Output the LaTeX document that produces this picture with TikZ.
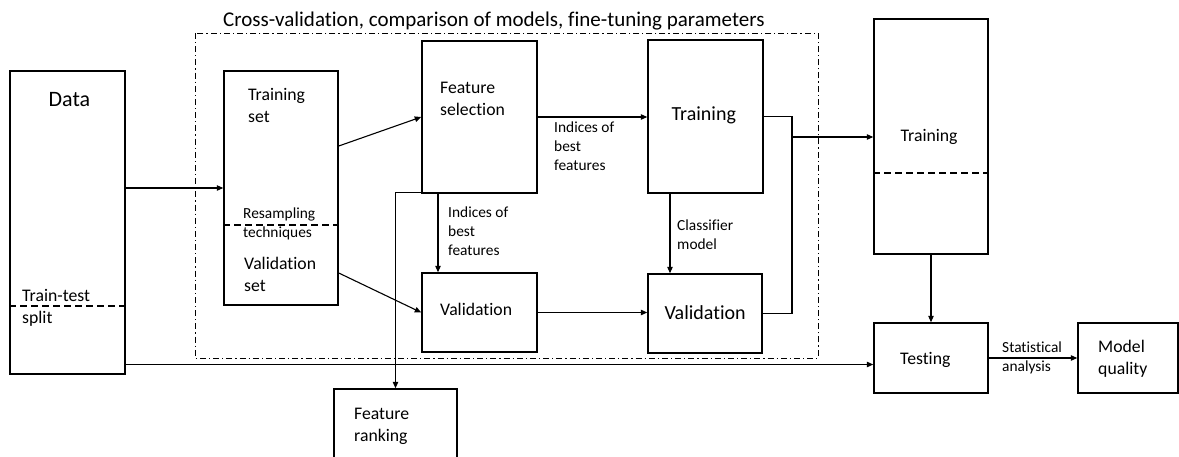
\documentclass[tikz,border=0pt]{standalone}
\usepackage{fontspec}
\setmainfont{Carlito}[Ligatures=CommonOff]
\usetikzlibrary{arrows.meta,calc}
\newcommand\fntXL{\fontsize{21}{25}\selectfont}
\newcommand\fntL{\fontsize{20}{24}\selectfont}
\newcommand\fntM{\fontsize{17.7}{22}\selectfont}
\newcommand\fntS{\fontsize{15.4}{19}\selectfont}
\begin{document}
\begin{tikzpicture}[x=1pt,y=-1pt,
  box/.style={draw, line width=1.5pt, inner sep=0pt},
  arr/.style={-{Triangle[length=6.5pt,width=5.5pt]}, line width=1.1pt},
  ln/.style={line width=1.1pt},
  dline/.style={line width=1.2pt, dash pattern=on 7pt off 4pt},
  cvframe/.style={line width=1pt, dash pattern=on 6pt off 3pt on 1.2pt off 3pt},
  lbl/.style={anchor=base west, inner sep=0pt, font=\fntM},
  slbl/.style={anchor=base west, inner sep=0pt, font=\fntS}]
\clip (0,0) rectangle (1179,456);
\fill[white] (0,0) rectangle (1179,456);

% dash-dot cross-validation frame
\draw[cvframe] (195,33) rectangle (818,358);
\node[anchor=base west, inner sep=0pt, font=\fntXL] (title) at (223,26) {Cross-validation, comparison of models, fine-tuning parameters};

% boxes
\node[box, minimum width=115pt, minimum height=303pt] (data) at (67.5,222.5) {};
\node[box, minimum width=114pt, minimum height=234pt] (tset) at (281,188) {};
\node[box, minimum width=115pt, minimum height=152pt] (fs) at (479.5,117) {};
\node[box, minimum width=115pt, minimum height=79pt] (val1) at (479.5,312.5) {};
\node[box, minimum width=115pt, minimum height=153pt] (tr2) at (705.5,116.5) {};
\node[box, minimum width=114pt, minimum height=79pt] (val2) at (705,313.5) {};
\node[box, minimum width=114pt, minimum height=235pt] (tr3) at (931,136.5) {};
\node[box, minimum width=114pt, minimum height=70pt] (test) at (931,358) {};
\node[box, minimum width=100pt, minimum height=70pt] (mq) at (1128,358) {};
\node[box, minimum width=123pt, minimum height=81pt] (rank) at (395.5,429.5) {};

% dashed split lines
\draw[dline] (data.west |- 0,306) -- (data.east |- 0,306);
\draw[dline] (tset.west |- 0,225) -- (tset.east |- 0,225);
\draw[dline] (tr3.west |- 0,173) -- (tr3.east |- 0,173);

% texts
\node[anchor=base west, inner sep=0pt, font=\fontsize{22}{26}\selectfont] (tData) at (48.5,106) {Data};
\node[lbl] (tTT1) at (22,301) {Train-test};
\node[lbl] (tTT2) at (22,323) {split};
\node[lbl] (tTS1) at (248,100) {Training};
\node[lbl] (tTS2) at (248,122) {set};
\node[slbl] (tRS1) at (243,218) {Resampling};
\node[slbl] (tRS2) at (243,237) {techniques};
\node[lbl] (tVS1) at (244,269) {Validation};
\node[lbl] (tVS2) at (244,291) {set};
\node[lbl] (tFS1) at (440,93) {Feature};
\node[lbl] (tFS2) at (440,115) {selection};
\node[lbl] (tV1) at (440,315) {Validation};
\node[anchor=base west, inner sep=0pt, font=\fntL] (tTR2) at (671.5,120) {Training};
\node[anchor=base west, inner sep=0pt, font=\fntL] (tV2) at (664.3,319.5) {Validation};
\node[lbl] (tTR3) at (900.5,141.5) {Training};
\node[lbl] (tTest) at (900,364.5) {Testing};
\node[lbl] (tMQ1) at (1098,352) {Model};
\node[lbl] (tMQ2) at (1098,374) {quality};
\node[lbl] (tFR1) at (354,419) {Feature};
\node[lbl] (tFR2) at (354,441) {ranking};
\node[slbl] (tI1a) at (554,132) {Indices of};
\node[slbl] (tI1b) at (554,151) {best};
\node[slbl] (tI1c) at (554,170) {features};
\node[slbl] (tI2a) at (448,217.5) {Indices of};
\node[slbl] (tI2b) at (448,236.5) {best};
\node[slbl] (tI2c) at (448,255.5) {features};
\node[slbl] (tCM1) at (677,230.5) {Classifier};
\node[slbl] (tCM2) at (677,249.5) {model};
\node[slbl] (tSA1) at (1002,352.5) {Statistical};
\node[slbl] (tSA2) at (1002,371.5) {analysis};

% connectors
\draw[arr] (tset.west -| data.east) -- (tset.west);
\draw[arr] ([yshift=42pt]tset.east) -- (fs.west);
\draw[arr] ([yshift=-85pt]tset.east) -- (val1.west);
\draw[arr] (fs.east) -- (fs.east -| tr2.west);
\draw[arr] ([xshift=-41.5pt]fs.south) -- ([xshift=-41.5pt]fs.south |- val1.north);
\draw[arr] ([xshift=-35.5pt]tr2.south) -- ([xshift=-35.5pt]tr2.south |- val2.north);
\draw[arr] (val1.east) -- (val1.east -| val2.west);
\coordinate (jn) at (792,137);
\draw[ln] (tr2.east) -| (jn |- val2.east) -- (val2.east);
\draw[arr] (jn) -- (jn -| tr3.west);
\draw[arr] (tr3.south) -- (test.north);
\draw[arr] ([yshift=-142pt]data.east) -- ([yshift=-142pt]data.east -| test.west);
\draw[arr] (test.east) -- (test.east -| mq.west);
\draw[arr] ([yshift=1pt]fs.south west) -| (rank.north);
\end{tikzpicture}
\end{document}
